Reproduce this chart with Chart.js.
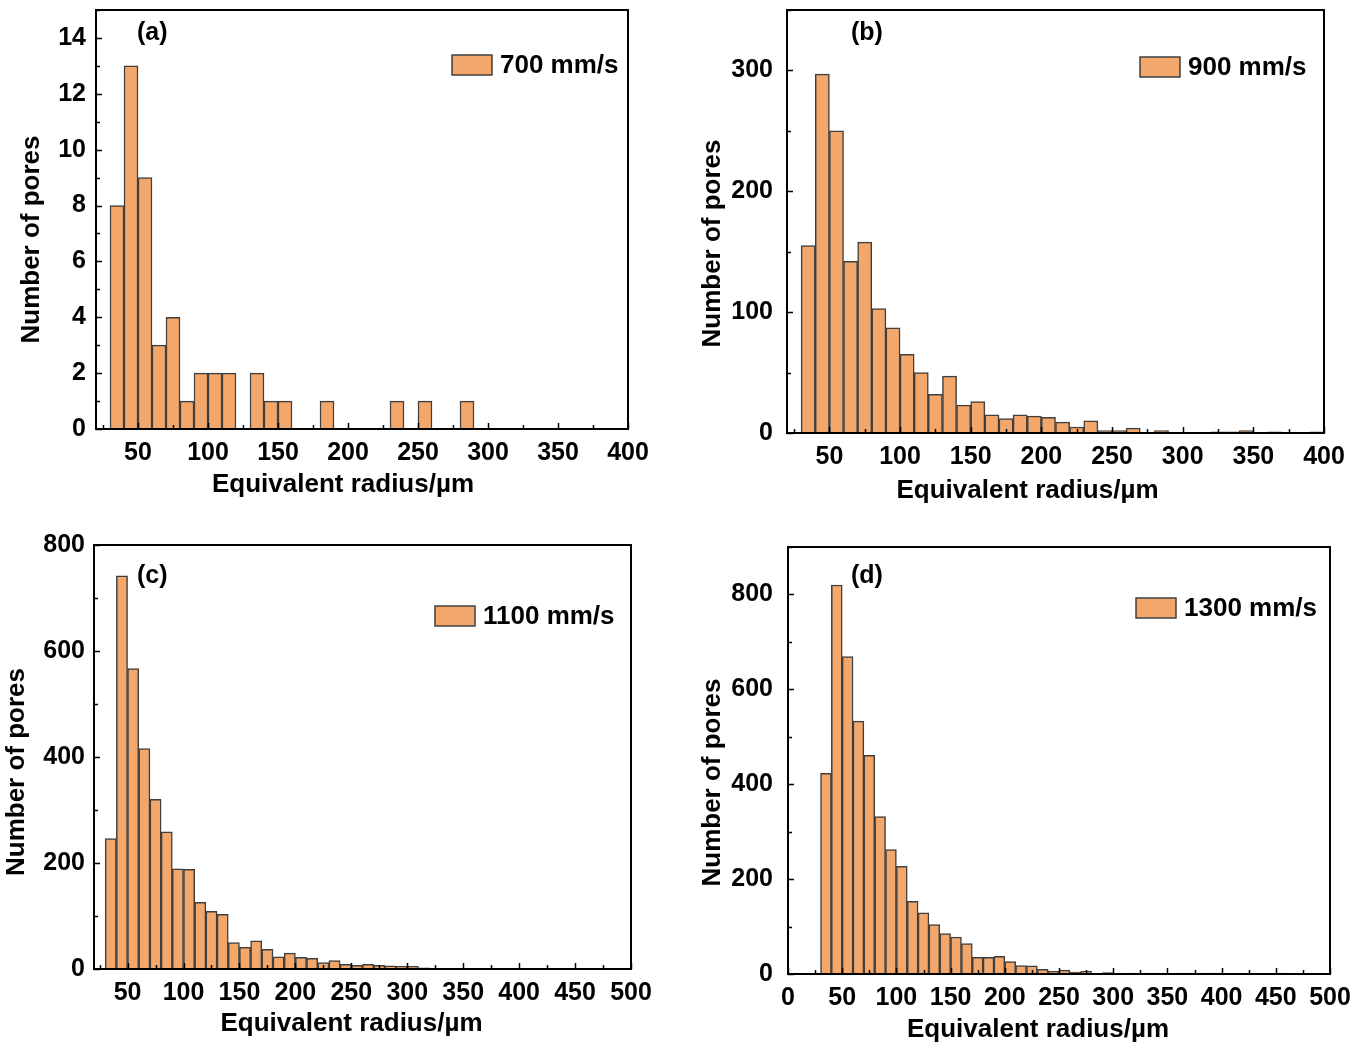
<!DOCTYPE html>
<html>
<head>
<meta charset="utf-8">
<script src="https://cdn.jsdelivr.net/npm/chart.js@4.4.0/dist/chart.umd.min.js"></script>
<style>
  body { margin: 0; background: #fff; width: 1367px; height: 1044px; overflow: hidden; position: relative; }
  canvas { position: absolute; }
</style>
</head>
<body>
<canvas id="chartA"></canvas>
<canvas id="chartB"></canvas>
<canvas id="chartC"></canvas>
<canvas id="chartD"></canvas>
<script>
// bin centres (10 µm wide bins) and counts
const binCenters = [35, 45, 55, 65, 75, 85, 95, 105, 115, 125, 135, 145, 155, 165, 175, 185, 195, 205, 215, 225,
  235, 245, 255, 265, 275, 285, 295, 305, 315, 325, 335, 345, 355, 365, 375, 385, 395, 405, 415, 425, 435, 445, 455];

const countsA = [8, 13, 9, 3, 4, 1, 2, 2, 2, 0, 2, 1, 1, 0, 0, 1, 0, 0, 0, 0, 1, 0, 1, 0, 0, 1];
const countsB = [155, 297, 250, 142, 158, 103, 87, 65, 50, 32, 47, 23, 26, 15, 12, 15, 14, 13, 9, 5,
  10, 2, 2, 4, 0, 2, 0, 0, 0, 1, 1, 2, 0, 1, 0, 0, 1];
const countsC = [246, 742, 567, 416, 320, 259, 189, 188, 126, 109, 103, 50, 41, 53, 37, 23, 30, 22, 20, 12,
  16, 9, 7, 9, 7, 6, 5, 5, 2, 1, 1, 1, 1, 1];
const countsD = [423, 820, 669, 533, 461, 332, 262, 227, 153, 129, 104, 85, 78, 64, 35, 35, 37, 26, 18, 17,
  10, 6, 8, 4, 6, 1, 3, 1, 2, 1, 2, 0, 1, 2, 1, 2, 2, 0, 0, 1, 0, 0, 2];

const xTicksAB = [50, 100, 150, 200, 250, 300, 350, 400];
const xTicksC = [50, 100, 150, 200, 250, 300, 350, 400, 450, 500];
const xTicksD = [0, 50, 100, 150, 200, 250, 300, 350, 400, 450, 500];
const yTicksA = [0, 2, 4, 6, 8, 10, 12, 14];
const yTicksB = [0, 100, 200, 300];
const yTicksCD = [0, 200, 400, 600, 800];

const legendLabels = ['700 mm/s', '900 mm/s', '1100 mm/s', '1300 mm/s'];
const panelLabels = ['(a)', '(b)', '(c)', '(d)'];
const xTitle = 'Equivalent radius/µm';
const yTitle = 'Number of pores';

const FONT = 'Arial, "Liberation Sans", sans-serif';
const BAR_FILL = '#F4A76A';
const BAR_EDGE = '#3f3f3f';

// plot rectangles in page pixels; offsets for titles, letters and legends
const panels = [
  { id: 'chartA', plot: { l: 96, t: 10, r: 628, b: 429 },
    counts: countsA, xTicks: xTicksAB, yTicks: yTicksA, xMin: 20, xMax: 400, yMax: 15, yMinor: 1, yPad: 10,
    label: { dx: 41, dy: 23 }, legend: { dx: 176, dy: 45 }, xt: { dx: -19, dy: 56 }, yt: { dx: -64, dy: 20 } },
  { id: 'chartB', plot: { l: 787, t: 10, r: 1324, b: 433 },
    counts: countsB, xTicks: xTicksAB, yTicks: yTicksB, xMin: 20, xMax: 400, yMax: 350, yMinor: 50, yPad: 14,
    label: { dx: 64, dy: 23 }, legend: { dx: 184, dy: 47 }, xt: { dx: -28, dy: 58 }, yt: { dx: -74, dy: 22 } },
  { id: 'chartC', plot: { l: 94, t: 545, r: 631, b: 969 },
    counts: countsC, xTicks: xTicksC, yTicks: yTicksCD, xMin: 20, xMax: 500, yMax: 800, yMinor: 100, yPad: 9,
    label: { dx: 43, dy: 31 }, legend: { dx: 196, dy: 61 }, xt: { dx: -11, dy: 55 }, yt: { dx: -77, dy: 15 } },
  { id: 'chartD', plot: { l: 788, t: 547, r: 1330, b: 974 },
    counts: countsD, xTicks: xTicksD, yTicks: yTicksCD, xMin: 0, xMax: 500, yMax: 900, yMinor: 100, yPad: 15,
    label: { dx: 63, dy: 29 }, legend: { dx: 194, dy: 51 }, xt: { dx: -21, dy: 56 }, yt: { dx: -75, dy: 22 } }
];
const PAD_L = 95, PAD_T = 50, PAD_R = 40, PAD_B = 75;

// frame, inward ticks, axis titles, panel letter and legend
const framePlugin = {
  id: 'frame',
  afterDatasetsDraw(chart, args, opts) {
    const { ctx, chartArea: a, scales: { x, y } } = chart;
    ctx.save();
    ctx.strokeStyle = '#000';
    ctx.lineWidth = 1.5;
    ctx.beginPath();
    for (let v = Math.ceil(x.min / 25) * 25; v <= x.max; v += 25) {
      const px = Math.round(x.getPixelForValue(v)) + 0.5;
      const len = v % 50 === 0 ? 6 : 4;
      ctx.moveTo(px, a.bottom); ctx.lineTo(px, a.bottom - len);
    }
    for (let v = 0; v <= y.max; v += opts.yMinor) {
      const py = Math.round(y.getPixelForValue(v)) + 0.5;
      const len = v % (opts.yMinor * 2) === 0 ? 6 : 4;
      ctx.moveTo(a.left, py); ctx.lineTo(a.left + len, py);
    }
    ctx.stroke();
    ctx.lineWidth = 2;
    ctx.strokeRect(a.left, a.top, a.right - a.left, a.bottom - a.top);

    ctx.fillStyle = '#000';
    ctx.textBaseline = 'middle';
    ctx.font = 'bold 26px ' + FONT;
    ctx.textAlign = 'center';
    const cx = (a.left + a.right) / 2, cy = (a.top + a.bottom) / 2;
    ctx.fillText(xTitle, cx + opts.xt.dx, a.bottom + opts.xt.dy);
    ctx.save();
    ctx.translate(a.left + opts.yt.dx, cy + opts.yt.dy);
    ctx.rotate(-Math.PI / 2);
    ctx.fillText(yTitle, 0, 0);
    ctx.restore();

    ctx.textAlign = 'left';
    ctx.font = 'bold 25px ' + FONT;
    ctx.fillText(opts.panel, a.left + opts.label.dx, a.top + opts.label.dy);

    const bx = a.right - opts.legend.dx, by = a.top + opts.legend.dy;
    ctx.fillStyle = BAR_FILL;
    ctx.fillRect(bx, by, 40, 20);
    ctx.strokeStyle = BAR_EDGE;
    ctx.lineWidth = 1.5;
    ctx.strokeRect(bx, by, 40, 20);
    ctx.fillStyle = '#000';
    ctx.font = 'bold 26px ' + FONT;
    ctx.fillText(chart.data.datasets[0].label, bx + 48, by + 11);
    ctx.restore();
  }
};

panels.forEach((p, i) => {
  const el = document.getElementById(p.id);
  const cx = p.plot.l - PAD_L, cy = p.plot.t - PAD_T;
  el.width = p.plot.r + PAD_R - cx;
  el.height = p.plot.b + PAD_B - cy;
  el.style.left = cx + 'px';
  el.style.top = cy + 'px';

  new Chart(el, {
    type: 'bar',
    data: {
      datasets: [{
        label: legendLabels[i],
        data: p.counts.map((c, k) => ({ x: binCenters[k], y: c })),
        backgroundColor: BAR_FILL,
        borderColor: BAR_EDGE,
        borderWidth: 1.5,
        barPercentage: 1,
        categoryPercentage: 1
      }]
    },
    options: {
      responsive: false,
      animation: false,
      devicePixelRatio: 1,
      layout: { padding: { left: 0, bottom: 0, top: PAD_T, right: PAD_R } },
      plugins: {
        legend: { display: false },
        tooltip: { enabled: false },
        frame: { panel: panelLabels[i], label: p.label, legend: p.legend, yMinor: p.yMinor, xt: p.xt, yt: p.yt }
      },
      scales: {
        x: {
          type: 'linear', min: p.xMin, max: p.xMax, offset: false,
          grid: { display: false, drawTicks: false }, border: { display: false },
          afterBuildTicks: s => { s.ticks = p.xTicks.map(v => ({ value: v })); },
          afterFit: s => { s.height = PAD_B; },
          ticks: { color: '#000', padding: 9, maxRotation: 0, autoSkip: false, font: { family: FONT, size: 25, weight: 'bold' } }
        },
        y: {
          min: 0, max: p.yMax,
          grid: { display: false, drawTicks: false }, border: { display: false },
          afterBuildTicks: s => { s.ticks = p.yTicks.map(v => ({ value: v })); },
          afterFit: s => { s.width = PAD_L; },
          ticks: { color: '#000', padding: p.yPad, font: { family: FONT, size: 25, weight: 'bold' } }
        }
      }
    },
    plugins: [framePlugin]
  });
});
</script>
</body>
</html>
